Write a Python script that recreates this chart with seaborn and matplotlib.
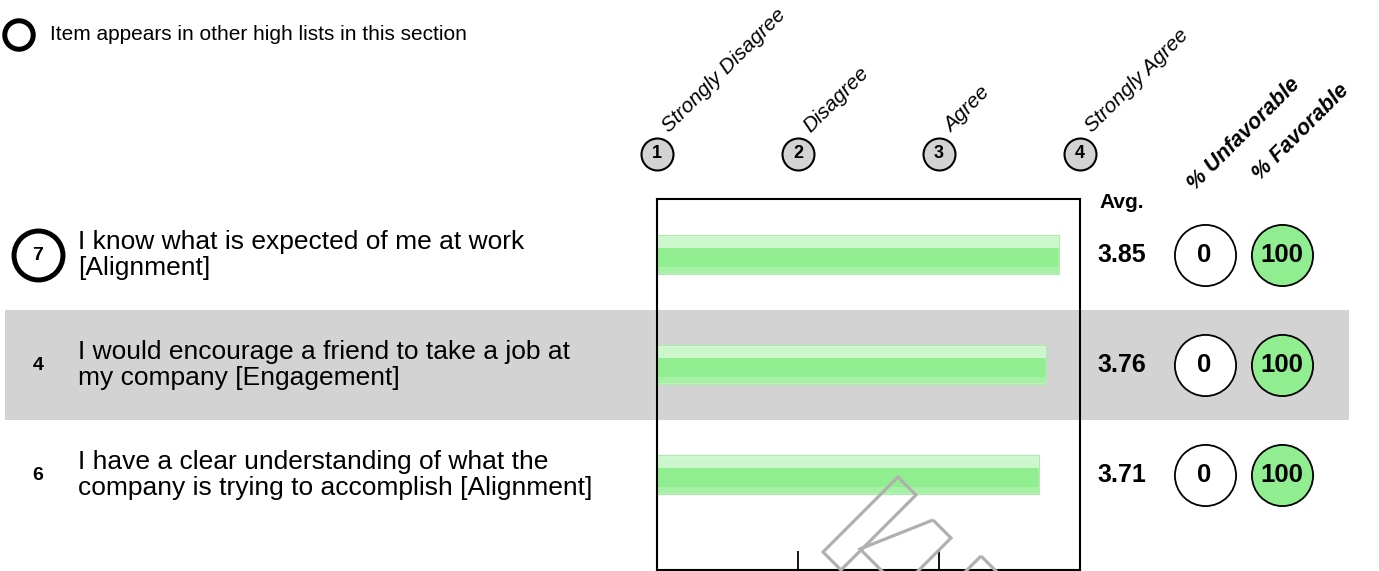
import numpy as np
import pandas as pd
import seaborn as sns
import matplotlib.pyplot as plt
from matplotlib.patches import Rectangle, Polygon

# survey items (top of the list)
item_ids = ['7', '4', '6']
item_text = ['I know what is expected of me at work\n[Alignment]',
             'I would encourage a friend to take a job at\nmy company [Engagement]',
             'I have a clear understanding of what the\ncompany is trying to accomplish [Alignment]']
in_other_lists = [True, False, False]
avg_score = [3.85, 3.76, 3.71]
pct_unfav = [0, 0, 0]
pct_fav = [100, 100, 100]

scale_vals = [1, 2, 3, 4]
scale_names = ['Strongly Disagree', 'Disagree', 'Agree', 'Strongly Agree']

W, H = 1379, 571
ROW0, PITCH = 255, 110   # pixel row of first item and row spacing

sns.set_style('white')
plt.rcParams['font.family'] = ['Liberation Sans', 'DejaVu Sans']
plt.rcParams['text.color'] = 'black'

fig = plt.figure(figsize=(W / 100, H / 100), dpi=100)

# background layer: x in pixels, y in row units
bg = fig.add_axes([0, 0, 1, 1], zorder=0)
bg.set_xlim(0, W)
bg.set_ylim((H - ROW0) / PITCH, -ROW0 / PITCH)
bg.axis('off')

for i in range(len(item_text)):
    if i % 2 == 1:
        bg.axhspan(i - 0.5, i + 0.5, xmin=5 / W, xmax=1349 / W, color='#d3d3d3', lw=0)

# legend line at top left
bg.scatter([19], [(35 - ROW0) / PITCH], s=420, facecolors='none', edgecolors='black', linewidths=3.6)
bg.text(50, (35 - ROW0) / PITCH, 'Item appears in other high lists in this section',
        fontsize=15, va='center', ha='left')

# item labels
for i, (num, txt, hl) in enumerate(zip(item_ids, item_text, in_other_lists)):
    if hl:
        bg.scatter([37.5], [i], s=1240, facecolors='white', edgecolors='black', linewidths=3.6, zorder=3)
    bg.text(38, i, num, fontsize=14, fontweight='bold', ha='center', va='center', zorder=4)
    bg.text(78, i, txt, fontsize=19, ha='left', va='center', linespacing=1.08)

# right-hand columns
bg.text(1122, (203 - ROW0) / PITCH, 'Avg.', fontsize=15, fontweight='bold', ha='center', va='center')
bg.text(1195, (191 - ROW0) / PITCH, '% Unfavorable', fontsize=15.5, fontweight='bold', fontstyle='italic',
        rotation=45, rotation_mode='anchor', ha='left', va='baseline')
bg.text(1260, (181 - ROW0) / PITCH, '% Favorable', fontsize=15.5, fontweight='bold', fontstyle='italic',
        rotation=45, rotation_mode='anchor', ha='left', va='baseline')

rows = np.arange(len(item_text))
bg.scatter([1204.5] * len(rows), rows, s=1940, facecolors='white', edgecolors='black', linewidths=1.3, zorder=3)
bg.scatter([1281.5] * len(rows), rows, s=1940, facecolors='#90ee90', edgecolors='black', linewidths=1.3, zorder=3)
for i in rows:
    bg.text(1122, i, f'{avg_score[i]:.2f}', fontsize=18, fontweight='bold', ha='center', va='center')
    bg.text(1204.5, i, str(pct_unfav[i]), fontsize=18.5, fontweight='bold', ha='center', va='center', zorder=4)
    bg.text(1281.5, i, str(pct_fav[i]), fontsize=18.5, fontweight='bold', ha='center', va='center', zorder=4)

# main bar chart
ax = fig.add_axes([657 / W, 1 / H, 423 / W, 371 / H], zorder=1)
ax.patch.set_alpha(0)
df = pd.DataFrame({'item': item_text, 'avg': avg_score})
sns.barplot(data=df, x='avg', y='item', orient='h', color='#90ee90', saturation=1,
            width=0.34, edgecolor='#a8eca8', linewidth=1.5, ax=ax)

# glossy highlight on top of each bar
for p in list(ax.patches):
    x, y, w, h = p.get_x(), p.get_y(), p.get_width(), p.get_height()
    ax.add_patch(Rectangle((x, y), w, h * 0.32, facecolor='white', alpha=0.55, lw=0))
    ax.add_patch(Rectangle((x, y + h * 0.82), w, h * 0.18, facecolor='white', alpha=0.2, lw=0))

ax.set_xlim(1, 4)
ax.set_ylim(2 + (570 - 475) / PITCH, -(ROW0 - 199) / PITCH)
ax.set_xticks(scale_vals)
ax.set_xticklabels([])
ax.set_yticks([])
ax.set_xlabel('')
ax.set_ylabel('')
ax.tick_params(axis='x', direction='in', length=14, width=1.3, color='black', bottom=True, top=False)
for s in ax.spines.values():
    s.set_visible(True)
    s.set_color('black')
    s.set_linewidth(1.5)

# scale header: numbered circles and answer labels
hdr_y = 1 + 45 / 371
trans = ax.get_xaxis_transform()
ax.scatter(scale_vals, [hdr_y] * 4, transform=trans, s=530, c='#d3d3d3',
           edgecolors='black', linewidths=1.5, clip_on=False, zorder=5)
for v, name in zip(scale_vals, scale_names):
    ax.text(v, hdr_y, str(v), transform=trans, ha='center', va='center',
            fontsize=13, fontweight='bold', zorder=6)
    ax.annotate(name, xy=(v, hdr_y), xycoords=trans, xytext=(9, 15), textcoords='offset points',
                rotation=45, rotation_mode='anchor', ha='left', va='baseline',
                fontsize=15, fontstyle='italic', annotation_clip=False)

# faint watermark shapes at the bottom
wm = fig.add_axes([0, 0, 1, 1], zorder=3)
wm.set_xlim(0, W)
wm.set_ylim(H, 0)
wm.axis('off')
for pts in ([(898, 477), (916, 495), (841, 570), (823, 552)],
            [(933, 520), (951, 538), (915, 574), (885, 574), (860, 549)],
            [(981, 556), (999, 574), (924, 649), (906, 631)]):
    wm.add_patch(Polygon(pts, closed=True, fill=False, edgecolor='#b0b0b0', lw=2.3))

fig.savefig('out.png', dpi=100)
